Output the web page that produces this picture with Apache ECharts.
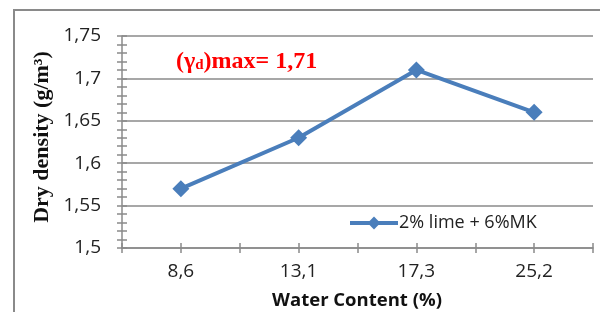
<!DOCTYPE html>
<html>
<head>
<meta charset="utf-8">
<script src="https://cdn.jsdelivr.net/npm/echarts@6/dist/echarts.min.js"></script>
<style>
  html, body { margin: 0; padding: 0; background: #fff; }
  #chart { width: 600px; height: 312px; }
</style>
</head>
<body>
<div id="chart"></div>
<script>
const waterContent = ['8,6', '13,1', '17,3', '25,2'];
const dryDensity = [1.57, 1.63, 1.71, 1.66];
const seriesName = '2% lime + 6%MK';
const yMin = 1.5, yMax = 1.75, yStep = 0.05;

const gray = '#8a8a8a';
const blue = '#4a7ebb';
const sans = '"Open Sans", sans-serif';
const serif = '"Liberation Serif", serif';

let chart = echarts.init(document.getElementById('chart'));

// overlay axes just to draw the crossing tick marks
const tickAxis = (inside) => ({
  type: 'value', min: 0, max: waterContent.length * 2, interval: 1,
  position: 'bottom',
  axisLine: { show: false },
  axisLabel: { show: false },
  splitLine: { show: false },
  axisTick: { show: true, inside: inside, length: 5, lineStyle: { color: gray, width: 1.5 } }
});
const yTickAxis = (inside) => ({
  type: 'value', min: yMin, max: yMax, interval: yStep,
  position: 'left',
  axisLine: { show: false },
  axisLabel: { show: false },
  splitLine: { show: false },
  axisTick: { show: true, inside: inside, length: 5, lineStyle: { color: gray, width: 1.5 } },
  minorTick: { show: true, splitNumber: 5, length: 5, lineStyle: { color: gray, width: 1.5 } }
});

let option = {
  animation: false,
  grid: { left: 122, right: 7, top: 36, bottom: 64 },
  xAxis: [
    {
      type: 'category',
      data: waterContent,
      boundaryGap: true,
      axisLine: { lineStyle: { color: gray, width: 1.5 } },
      axisTick: { show: false },
      axisLabel: { color: '#222', fontFamily: sans, fontSize: 19, margin: 14 }
    },
    tickAxis(false),
    tickAxis(true)
  ],
  yAxis: [
    {
      type: 'value', min: yMin, max: yMax, interval: yStep,
      axisLine: { show: true, lineStyle: { color: gray, width: 1.5 } },
      axisTick: { show: false },
      splitLine: { lineStyle: { color: gray, width: 1.5 } },
      axisLabel: {
        color: '#222', fontFamily: sans, fontSize: 19, margin: 21,
        formatter: v => String(+v.toFixed(2)).replace('.', ',')
      }
    },
    yTickAxis(false),
    yTickAxis(true)
  ],
  legend: {
    data: [seriesName],
    left: 343, top: 209,
    itemWidth: 48, itemHeight: 16, itemGap: 4,
    lineStyle: { width: 4 },
    textStyle: { color: '#222', fontFamily: sans, fontSize: 18, padding: [0, 0, 0, -4] }
  },
  series: [
    {
      name: seriesName,
      type: 'line',
      data: dryDensity,
      symbol: 'diamond',
      symbolSize: 17,
      lineStyle: { color: blue, width: 4 },
      itemStyle: { color: blue }
    }
  ],
  graphic: [
    {
      type: 'rect', silent: true,
      shape: { x: 14, y: 10, width: 620, height: 340 },
      style: { fill: 'none', stroke: gray, lineWidth: 2 }
    },
    {
      type: 'text', left: 176, top: 50,
      style: {
        text: '{a|(γ}{b|d}{a|)max= 1,71}',
        rich: {
          a: { fill: '#ff0000', fontFamily: serif, fontWeight: 'bold', fontSize: 24 },
          b: { fill: '#ff0000', fontFamily: serif, fontWeight: 'bold', fontSize: 15, padding: [7, 0, 0, 0] }
        }
      }
    },
    {
      type: 'text', x: 42, y: 137, rotation: Math.PI / 2,
      style: {
        text: 'Dry density (g/m³)',
        fill: '#111', fontFamily: serif, fontWeight: 'bold', fontSize: 22,
        align: 'center', verticalAlign: 'middle'
      }
    },
    {
      type: 'text', x: 357, y: 301,
      style: {
        text: 'Water Content (%)',
        fill: '#111', fontFamily: sans, fontWeight: 'bold', fontSize: 18.5,
        align: 'center', verticalAlign: 'middle'
      }
    }
  ]
};
chart.setOption(option);
</script>
</body>
</html>
